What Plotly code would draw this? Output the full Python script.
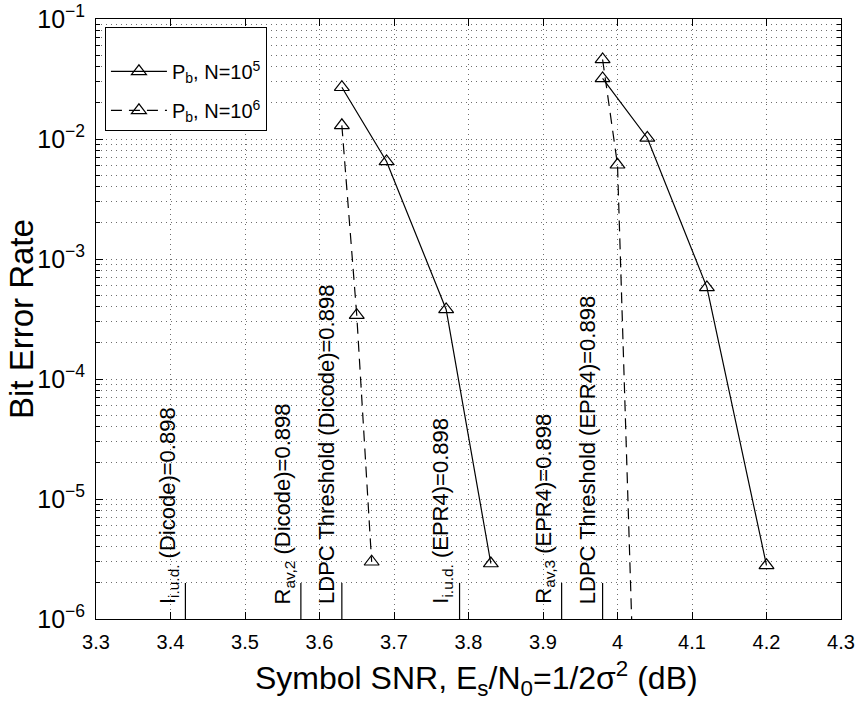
import math
import plotly.graph_objects as go

# ---- data ----
x_n5_left = [3.63, 3.69, 3.77, 3.83]
y_n5_left = [2.7e-2, 6.5e-3, 3.8e-4, 2.9e-6]
x_n5_right = [3.98, 4.04, 4.12, 4.20]
y_n5_right = [3.2e-2, 1.02e-2, 5.8e-4, 2.8e-6]
x_n6_left = [3.63, 3.65, 3.67]
y_n6_left = [1.3e-2, 3.4e-4, 3.0e-6]
x_n6_right = [3.98, 4.00, 4.02]
y_n6_right = [4.6e-2, 6.1e-3, 6.3e-7]

thr_x = [3.42, 3.575, 3.63, 3.788, 3.925, 3.98]
thr_labels = [
    "I<sub>i.u.d.</sub> (Dicode)=0.898",
    "R<sub>av,2</sub> (Dicode)=0.898",
    "LDPC Threshold (Dicode)=0.898",
    "I<sub>i.u.d.</sub> (EPR4)=0.898",
    "R<sub>av,3</sub> (EPR4)=0.898",
    "LDPC Threshold (EPR4)=0.898",
]
thr_seg_y = [1e-6, 2e-6]
thr_text_y = 1.28e-6

legend_names = ["P<sub>b</sub>, N=10<sup>5</sup>", "P<sub>b</sub>, N=10<sup>6</sup>"]
x_title = "Symbol SNR, E<sub>s</sub>/N<sub>0</sub>=1/2σ<sup>2</sup> (dB)"
y_title = "Bit Error Rate"

FONT = "Liberation Sans, Arial, Helvetica, sans-serif"
BLACK = "#000000"
GRID = "#6e6e6e"

fig = go.Figure()

marker = dict(symbol="triangle-up-open", size=13, color=BLACK, line=dict(width=1.2, color=BLACK))

series = [
    (x_n5_left, y_n5_left, "solid", legend_names[0], True, "g1"),
    (x_n5_right, y_n5_right, "solid", legend_names[0], False, "g1"),
    (x_n6_left, y_n6_left, "11px,7px", legend_names[1], True, "g2"),
    (x_n6_right, y_n6_right, "11px,7px", legend_names[1], False, "g2"),
]
for xs, ys, dash, name, show, grp in series:
    fig.add_trace(go.Scatter(
        x=xs, y=ys, mode="lines+markers", name=name, showlegend=show,
        legendgroup=grp,
        line=dict(color=BLACK, width=1.2, dash=dash),
        marker=marker, cliponaxis=True,
    ))

for xv in thr_x:
    fig.add_trace(go.Scatter(
        x=[xv, xv], y=thr_seg_y, mode="lines", showlegend=False,
        line=dict(color=BLACK, width=1.2), hoverinfo="skip",
    ))

for xv, txt in zip(thr_x, thr_labels):
    fig.add_annotation(
        x=xv, y=math.log10(thr_text_y), xref="x", yref="y",
        text=txt, textangle=-90, showarrow=False,
        xanchor="right", yanchor="bottom", xshift=-1,
        font=dict(family=FONT, size=22, color=BLACK),
    )

# axis titles
fig.add_annotation(
    x=0.5, y=0, xref="paper", yref="paper", text=x_title, showarrow=False,
    xanchor="center", yanchor="middle", xshift=8, yshift=-59,
    font=dict(family=FONT, size=32, color=BLACK),
)
fig.add_annotation(
    x=0, y=0.5, xref="paper", yref="paper", text=y_title, showarrow=False,
    textangle=-90, xanchor="center", yanchor="middle", xshift=-75,
    font=dict(family=FONT, size=33, color=BLACK),
)

fig.update_layout(
    width=856, height=708,
    margin=dict(l=96, r=15, t=19, b=89, autoexpand=False),
    paper_bgcolor="white", plot_bgcolor="white",
    font=dict(family=FONT, size=20, color=BLACK),
    showlegend=True,
    legend=dict(
        x=0.012, y=0.986, xanchor="left", yanchor="top",
        bgcolor="white", bordercolor=BLACK, borderwidth=1,
        font=dict(family=FONT, size=20, color=BLACK),
        tracegroupgap=10, traceorder="grouped", itemwidth=56,
        title=dict(text=" ", font=dict(family=FONT, size=18, color=BLACK)),
    ),
)

fig.update_xaxes(
    range=[3.3, 4.3], dtick=0.1, tick0=3.3, automargin=False,
    showline=True, linecolor=BLACK, linewidth=1, mirror="ticks",
    ticks="inside", ticklen=7, tickcolor=BLACK,
    showgrid=True, gridcolor=GRID, griddash="1px,4px", gridwidth=1,
    zeroline=False, ticklabelstandoff=5,
    tickfont=dict(family=FONT, size=20, color=BLACK),
)

fig.update_yaxes(
    type="log", range=[-6, -1], dtick=1, automargin=False,
    exponentformat="power", showexponent="all",
    showline=True, linecolor=BLACK, linewidth=1, mirror="ticks",
    ticks="inside", ticklen=7, tickcolor=BLACK,
    showgrid=True, gridcolor=GRID, griddash="1px,4px", gridwidth=1,
    zeroline=False, ticklabelstandoff=6,
    tickfont=dict(family=FONT, size=20, color=BLACK),
    minor=dict(dtick="D1", ticks="inside", ticklen=4, tickcolor=BLACK,
               showgrid=True, gridcolor=GRID, griddash="1px,4px", gridwidth=1),
)

fig.write_html(
    "out.html",
    config={"displayModeBar": False},
    post_script="document.body.style.margin='0';document.body.style.overflow='hidden';",
)
